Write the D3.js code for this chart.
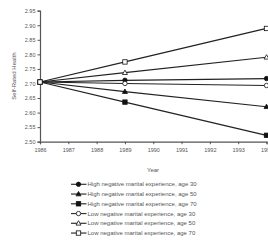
<!DOCTYPE html>
<html>
<head>
<meta charset="utf-8">
<script src="https://cdn.jsdelivr.net/npm/d3@7"></script>
<style>
  body { margin: 0; background: #fff; }
  svg { display: block; font-family: "Liberation Sans", Arial, sans-serif; }
</style>
</head>
<body>
<div id="chart"></div>
<script>
// data
const years = [1986, 1989, 1994];
const seriesNames = [
    'High negative marital experience, age 30',
    'High negative marital experience, age 50',
    'High negative marital experience, age 70',
    'Low negative marital experience, age 30',
    'Low negative marital experience, age 50',
    'Low negative marital experience, age 70'
];
const highAge30 = [2.705, 2.711, 2.717];
const highAge50 = [2.705, 2.672, 2.620];
const highAge70 = [2.705, 2.636, 2.522];
const lowAge30 = [2.705, 2.700, 2.693];
const lowAge50 = [2.705, 2.737, 2.790];
const lowAge70 = [2.705, 2.774, 2.889];
const markers = ['circle', 'triangle', 'square', 'circle', 'triangle', 'square'];
const filled = [true, true, true, false, false, false];
const yTicks = [2.50, 2.55, 2.60, 2.65, 2.70, 2.75, 2.80, 2.85, 2.90, 2.95];
const xTicks = [1986, 1987, 1988, 1989, 1990, 1991, 1992, 1993, 1994];

const allSeries = [highAge30, highAge50, highAge70, lowAge30, lowAge50, lowAge70];

const W = 268, H = 247;
const svg = d3.select('#chart').append('svg').attr('width', W).attr('height', H);

const x = d3.scaleLinear().domain([1986, 1994]).range([40, 266.5]);
const y = d3.scaleLinear().domain([2.50, 2.95]).range([141.7, 10.7]);

const axisColor = '#555';
const textColor = '#555';

// y axis
const yAxis = svg.append('g').attr('transform', 'translate(40,0)')
    .call(d3.axisLeft(y).tickValues(yTicks).tickFormat(d3.format('.2f')).tickSize(2.5).tickPadding(2));
yAxis.select('.domain').attr('stroke', axisColor).attr('stroke-width', 1.2);
yAxis.selectAll('line').attr('stroke', axisColor);
yAxis.selectAll('text').attr('fill', textColor).style('font-size', '5.5px');

// x axis (the last label is cut by the edge, as in the original)
const xAxis = svg.append('g').attr('transform', `translate(0,${y(2.50)})`)
    .call(d3.axisBottom(x).tickValues(xTicks).tickFormat(d3.format('d')).tickSize(2.5).tickPadding(4));
xAxis.select('.domain').attr('stroke', axisColor).attr('stroke-width', 1.2);
xAxis.selectAll('line').attr('stroke', axisColor);
xAxis.selectAll('text').attr('fill', textColor).style('font-size', '5.5px');

svg.append('text').attr('x', 153).attr('y', 172).attr('text-anchor', 'middle')
    .attr('fill', textColor).style('font-size', '6px').text('Year');
svg.append('text').attr('transform', 'translate(16,76) rotate(-90)').attr('text-anchor', 'middle')
    .attr('fill', textColor).style('font-size', '6px').text('Self-Rated Health');

const line = d3.line().x((d, i) => x(years[i])).y(d => y(d));

function drawMarker(g, type, isFilled, cx, cy) {
    const fill = isFilled ? '#111' : '#fff';
    if (type === 'circle') {
        g.append('circle').attr('cx', cx).attr('cy', cy).attr('r', 2.2)
            .attr('fill', fill).attr('stroke', '#111').attr('stroke-width', 0.8);
    } else if (type === 'square') {
        g.append('rect').attr('x', cx - 2.2).attr('y', cy - 2.2).attr('width', 4.4).attr('height', 4.4)
            .attr('fill', fill).attr('stroke', '#111').attr('stroke-width', 0.8);
    } else {
        g.append('path').attr('d', `M${cx} ${cy - 2.6}L${cx + 2.5} ${cy + 1.8}L${cx - 2.5} ${cy + 1.8}Z`)
            .attr('fill', fill).attr('stroke', '#111').attr('stroke-width', 0.8);
    }
}

const plot = svg.append('g');
allSeries.forEach(vals => {
    plot.append('path').attr('d', line(vals)).attr('fill', 'none')
        .attr('stroke', '#222').attr('stroke-width', 1.2);
});
allSeries.forEach((vals, k) => {
    vals.forEach((v, i) => drawMarker(plot, markers[k], filled[k], x(years[i]), y(v)));
});

// legend
const legend = svg.append('g');
seriesNames.forEach((name, k) => {
    const ly = 184.3 + k * 9.75;
    legend.append('line').attr('x1', 71).attr('x2', 86.5).attr('y1', ly).attr('y2', ly)
        .attr('stroke', '#333').attr('stroke-width', 1.2);
    drawMarker(legend, markers[k], filled[k], 78.5, ly);
    legend.append('text').attr('x', 87.5).attr('y', ly + 2.1).attr('fill', textColor)
        .style('font-size', '6px').text(name);
});
</script>
</body>
</html>
